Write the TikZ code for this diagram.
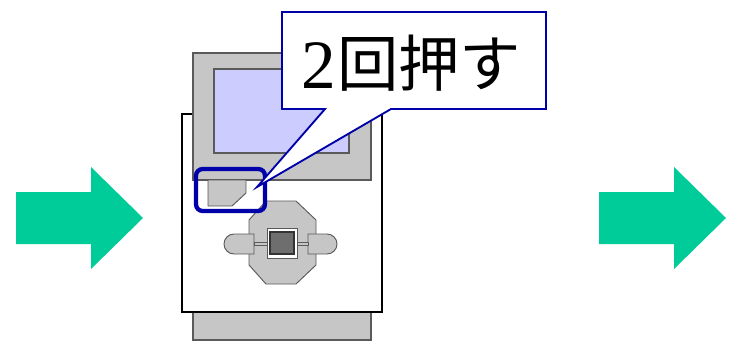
\documentclass[tikz,border=0pt]{standalone}
\usepackage{fontspec}
\setmainfont{Liberation Serif}
\newfontfamily\numfont{Liberation Serif}
\newfontfamily\jpfont{Noto Sans CJK JP}
\definecolor{arrowgreen}{RGB}{0,204,153}
\definecolor{panelgray}{RGB}{198,198,198}
\definecolor{edgegray}{RGB}{90,90,90}
\definecolor{screenblue}{RGB}{204,204,255}
\definecolor{keydark}{RGB}{110,110,110}
\definecolor{markblue}{RGB}{0,0,170}
\tikzset{
  px/.style={x=0.75pt,y=-0.75pt},
  flowarrow/.style={fill=arrowgreen,draw=none},
  panel/.style={fill=panelgray,draw=edgegray,line width=0.9pt},
  bodybox/.style={fill=white,draw=black,line width=0.8pt},
  keyshape/.style={fill=panelgray,draw=edgegray,line width=0.7pt},
  highlight/.style={draw=markblue,line width=3.2pt,rounded corners=5pt},
  callout/.style={fill=white,draw=markblue,line width=1.4pt,line join=miter},
}
\begin{document}
\begin{tikzpicture}[px]
\useasboundingbox (0,0) rectangle (731,343);
% flow arrows
\fill[flowarrow] (16,192) -- (91,192) -- (91,167) -- (143,218) -- (91,269) -- (91,244) -- (16,244) -- cycle;
\fill[flowarrow] (599,192) -- (674,192) -- (674,167) -- (726,218) -- (674,269) -- (674,244) -- (599,244) -- cycle;
% brick body
\draw[panel] (193,312) rectangle (371,340);
\draw[bodybox] (182,114) rectangle (382,312);
\draw[panel] (193,53) rectangle (371,180);
\draw[fill=screenblue,draw=edgegray,line width=0.9pt] (214,69) rectangle (349,153);
% back button
\draw[keyshape] (208,180) -- (246,180) -- (246,193) -- (232,206) -- (208,206) -- cycle;
% central button cluster
\draw[keyshape] (266,201) -- (296,201) -- (316,220) -- (316,265) -- (296,284) -- (266,284) -- (249,265) -- (249,220) -- cycle;
\draw[keyshape] (254,234) -- (234,234) arc[start angle=-90,end angle=-270,radius=10] -- (254,254) -- cycle;
\draw[keyshape] (308,234) -- (327,234) arc[start angle=-90,end angle=90,radius=10] -- (308,254) -- cycle;
\draw[keyshape] (254,242) rectangle (267,245);
\draw[keyshape] (297,242) rectangle (308,245);
\draw[fill=white,draw=edgegray,line width=0.7pt] (267,228) rectangle (297,258);
\draw[fill=keydark,draw=black!80,line width=0.9pt] (270,232) rectangle (294,254);
% highlight around back button
\draw[highlight] (196,169) rectangle (265,211);
% speech bubble
\draw[callout] (282,12) -- (546,12) -- (546,109) -- (391,109) -- (257,187) -- (325,109) -- (282,109) -- cycle;
\node[inner sep=0pt,anchor=base west] (label) at (301,88)
  {\numfont\fontsize{52}{56}\selectfont 2\kern1pt\raisebox{1.5pt}{\jpfont\fontsize{46}{50}\selectfont 回押す}};
\end{tikzpicture}
\end{document}
